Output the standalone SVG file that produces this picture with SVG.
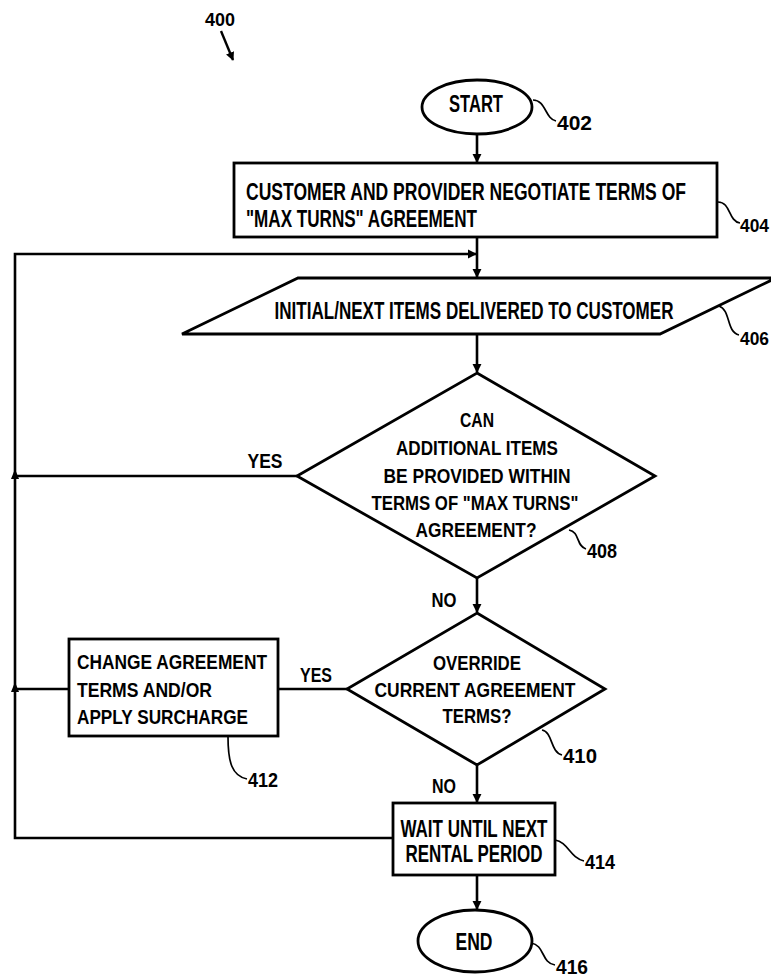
<svg xmlns="http://www.w3.org/2000/svg" width="771" height="979" viewBox="0 0 771 979">
<style>
.s{fill:none;stroke:#000;stroke-width:2.8}
.c{fill:none;stroke:#000;stroke-width:2.6}
.l{fill:none;stroke:#000;stroke-width:1.7}
text{font-family:"Liberation Sans",Arial,sans-serif;font-weight:bold;font-size:23px;fill:#000}
.m{text-anchor:middle}
.d{font-size:21px}
.n{font-size:21px}
</style>
<defs>
<marker id="a" viewBox="0 0 10 10" refX="9" refY="5" markerWidth="3.6" markerHeight="3.6" orient="auto" markerUnits="strokeWidth">
<path d="M0,0 L10,5 L0,10 z" fill="#000"/>
</marker>
</defs>
<rect width="771" height="979" fill="#fff"/>
<g id="ref400">
<text x="205" y="26" textLength="30" lengthAdjust="spacingAndGlyphs" style="font-size:18px">400</text>
<path class="l" d="M221,31 L233,60" marker-end="url(#a)" style="stroke-width:2.4"/>
</g>
<g id="n402">
<ellipse class="s" cx="477" cy="107" rx="55" ry="27"/>
<g transform="scale(0.78,1)">
<text class="m" x="610.26" y="112" textLength="69.23" lengthAdjust="spacingAndGlyphs">START</text>
</g>
<path class="l" d="M533,100 C546,100 545,119 556,121"/>
<text class="n" x="557" y="130" textLength="35" lengthAdjust="spacingAndGlyphs">402</text>
</g>
<g id="n404">
<rect class="s" x="234" y="163" width="483" height="74"/>
<g transform="scale(0.78,1)">
<text x="315.38" y="200" textLength="564.1" lengthAdjust="spacingAndGlyphs">CUSTOMER AND PROVIDER NEGOTIATE TERMS OF</text>
<text x="315.38" y="227" textLength="296.15" lengthAdjust="spacingAndGlyphs">"MAX TURNS" AGREEMENT</text>
</g>
<path class="l" d="M718,202 C731,202 728,221 740,223"/>
<text x="740" y="232" textLength="29" lengthAdjust="spacingAndGlyphs" style="font-size:18px">404</text>
</g>
<g id="n406">
<polygon class="s" points="298,278 776,278 660,334 182,334"/>
<g transform="scale(0.78,1)">
<text class="m" x="607.69" y="319" textLength="511.5" lengthAdjust="spacingAndGlyphs">INITIAL/NEXT ITEMS DELIVERED TO CUSTOMER</text>
</g>
<path class="l" d="M719,306 C731,310 726,332 739,335"/>
<text x="740" y="345" textLength="29" lengthAdjust="spacingAndGlyphs" style="font-size:18px">406</text>
</g>
<g id="n408">
<polygon class="s" points="477,373 655,476 477,578 297,476"/>
<g transform="scale(0.78,1)">
<text class="m d" x="611.54" y="427" textLength="43.6" lengthAdjust="spacingAndGlyphs">CAN</text>
<text class="m d" x="611.54" y="455" textLength="207.7" lengthAdjust="spacingAndGlyphs">ADDITIONAL ITEMS</text>
<text class="m d" x="611.54" y="483" textLength="239.7" lengthAdjust="spacingAndGlyphs">BE PROVIDED WITHIN</text>
<text class="m d" x="608.97" y="510" textLength="265.4" lengthAdjust="spacingAndGlyphs">TERMS OF "MAX TURNS"</text>
<text class="m d" x="610.26" y="537" textLength="155.1" lengthAdjust="spacingAndGlyphs">AGREEMENT?</text>
</g>
<path class="l" d="M569,530 C580,532 576,546 586,549"/>
<text class="n" x="587" y="558" textLength="30" lengthAdjust="spacingAndGlyphs">408</text>
</g>
<g id="n410">
<polygon class="s" points="477,613 605,689 477,765 347,689"/>
<g transform="scale(0.78,1)">
<text class="m d" x="611.54" y="670" textLength="112.8" lengthAdjust="spacingAndGlyphs">OVERRIDE</text>
<text class="m d" x="608.97" y="697" textLength="257.7" lengthAdjust="spacingAndGlyphs">CURRENT AGREEMENT</text>
<text class="m d" x="611.54" y="723" textLength="88.5" lengthAdjust="spacingAndGlyphs">TERMS?</text>
</g>
<path class="l" d="M542,730 C553,732 550,752 562,755"/>
<text class="n" x="563" y="763" textLength="34" lengthAdjust="spacingAndGlyphs">410</text>
</g>
<g id="n412">
<rect class="s" x="69" y="639" width="209" height="97"/>
<g transform="scale(0.78,1)">
<text class="d" x="98.72" y="669" textLength="243.6" lengthAdjust="spacingAndGlyphs">CHANGE AGREEMENT</text>
<text class="d" x="98.72" y="697" textLength="173.1" lengthAdjust="spacingAndGlyphs">TERMS AND/OR</text>
<text class="d" x="98.72" y="724" textLength="219.2" lengthAdjust="spacingAndGlyphs">APPLY SURCHARGE</text>
</g>
<path class="l" d="M228,737 C228,762 232,776 247,779"/>
<text class="n" x="248" y="787" textLength="30" lengthAdjust="spacingAndGlyphs">412</text>
</g>
<g id="n414">
<rect class="s" x="393" y="803" width="162" height="72"/>
<g transform="scale(0.78,1)">
<text class="m" x="607.69" y="837" textLength="188.5" lengthAdjust="spacingAndGlyphs">WAIT UNTIL NEXT</text>
<text class="m" x="607.69" y="862" textLength="175.6" lengthAdjust="spacingAndGlyphs">RENTAL PERIOD</text>
</g>
<path class="l" d="M555,840 C568,842 570,858 584,861"/>
<text class="n" x="585" y="869" textLength="30" lengthAdjust="spacingAndGlyphs">414</text>
</g>
<g id="n416">
<ellipse class="s" cx="475" cy="941" rx="57" ry="31"/>
<g transform="scale(0.78,1)">
<text class="m" x="607.69" y="950" textLength="47.4" lengthAdjust="spacingAndGlyphs">END</text>
</g>
<path class="l" d="M531,943 C545,945 541,963 555,965"/>
<text class="n" x="556" y="974" textLength="32" lengthAdjust="spacingAndGlyphs">416</text>
</g>
<g id="connectors">
<path class="c" d="M477,134 V162" marker-end="url(#a)"/>
<path class="c" d="M477,237 V277" marker-end="url(#a)"/>
<path class="c" d="M393,838 H15 V254 H476" marker-end="url(#a)"/>
<path class="c" d="M477,334 V372" marker-end="url(#a)"/>
<path class="c" d="M297,476 H15"/>
<path class="c" d="M477,578 V612" marker-end="url(#a)"/>
<path class="c" d="M347,689 H278"/>
<path class="c" d="M69,689 H15"/>
<path class="c" d="M477,765 V802" marker-end="url(#a)"/>
<path class="c" d="M477,875 V909" marker-end="url(#a)"/>
<path d="M15,469 L11,479 L19,479 z"/>
<path d="M15,682 L11,692 L19,692 z"/>
<g transform="scale(0.78,1)">
<text class="m d" x="339.74" y="468" textLength="44.9" lengthAdjust="spacingAndGlyphs">YES</text>
<text class="m d" x="569.23" y="607" textLength="32.05" lengthAdjust="spacingAndGlyphs">NO</text>
<text class="m d" x="405.13" y="682" textLength="41.03" lengthAdjust="spacingAndGlyphs">YES</text>
<text class="m d" x="569.23" y="793" textLength="30.8" lengthAdjust="spacingAndGlyphs">NO</text>
</g>
</g>
</svg>
